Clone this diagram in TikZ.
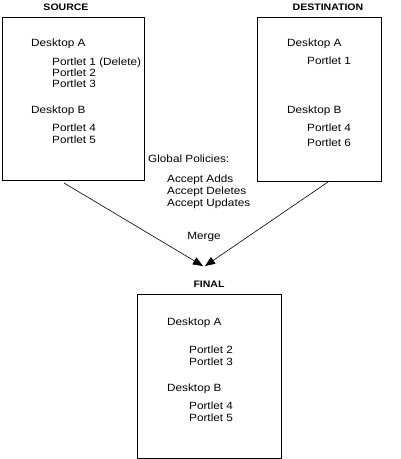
\documentclass[tikz,border=0pt]{standalone}
\usepackage{fontspec}
\setmainfont[FakeStretch=1.12]{Liberation Sans}
\usetikzlibrary{arrows.meta}
\begin{document}
\begin{tikzpicture}[x=1pt,y=-1pt,
  box/.style={draw=black,line width=0.8pt},
  txt/.style={anchor=base west,inner sep=0pt,font=\fontsize{10.5}{12}\selectfont},
  ttl/.style={anchor=base,inner sep=0pt,font=\fontsize{9.4}{10}\selectfont\bfseries},
  arr/.style={line width=0.6pt,-{Triangle[length=10pt,width=8pt]}}]
\fill[white] (0,0) rectangle (401,459);
\useasboundingbox (0,0) rectangle (401,459);
% boxes
\draw[box] (2,17) rectangle (144,180);
\draw[box] (257,17) rectangle (381,181);
\draw[box] (137,294) rectangle (281,458);
% titles
\node[ttl] (tsrc) at (66,10) {SOURCE};
\node[ttl] (tdst) at (328,10) {DESTINATION};
\node[ttl] (tfin) at (209,287.3) {FINAL};
% source
\node[txt] (sA) at (31,46.7) {Desktop A};
\node[txt] (sp1) at (52,65) {Portlet 1 (Delete)};
\node[txt] (sp2) at (52,76.3) {Portlet 2};
\node[txt] (sp3) at (52,87.7) {Portlet 3};
\node[txt] (sB) at (31,113.3) {Desktop B};
\node[txt] (sp4) at (52,131.5) {Portlet 4};
\node[txt] (sp5) at (52,143.5) {Portlet 5};
% destination
\node[txt] (dA) at (287,46.7) {Desktop A};
\node[txt] (dp1) at (307,64.5) {Portlet 1};
\node[txt] (dB) at (287,113.3) {Desktop B};
\node[txt] (dp4) at (307,131.3) {Portlet 4};
\node[txt] (dp6) at (307,146.5) {Portlet 6};
% policies
\node[txt] (gp) at (148,162.3) {Global Policies:};
\node[txt] (aa) at (167,182.5) {Accept Adds};
\node[txt] (ad) at (167,194.5) {Accept Deletes};
\node[txt] (au) at (167,206) {Accept Updates};
\node[anchor=base,inner sep=0pt,font=\fontsize{10.5}{12}\selectfont] (mg) at (204,239) {Merge};
% final
\node[txt] (fA) at (167,325) {Desktop A};
\node[txt] (fp2) at (189,353.3) {Portlet 2};
\node[txt] (fp3) at (189,365.3) {Portlet 3};
\node[txt] (fB) at (167,391.5) {Desktop B};
\node[txt] (fp4) at (189,409.3) {Portlet 4};
\node[txt] (fp5) at (189,421) {Portlet 5};
% arrows
\coordinate (s1) at (64,183);
\coordinate (d1) at (328,182);
\coordinate (m1) at (203,266);
\coordinate (m2) at (205,266);
\draw[arr] (s1) -- (m1);
\draw[arr] (d1) -- (m2);
\end{tikzpicture}
\end{document}
